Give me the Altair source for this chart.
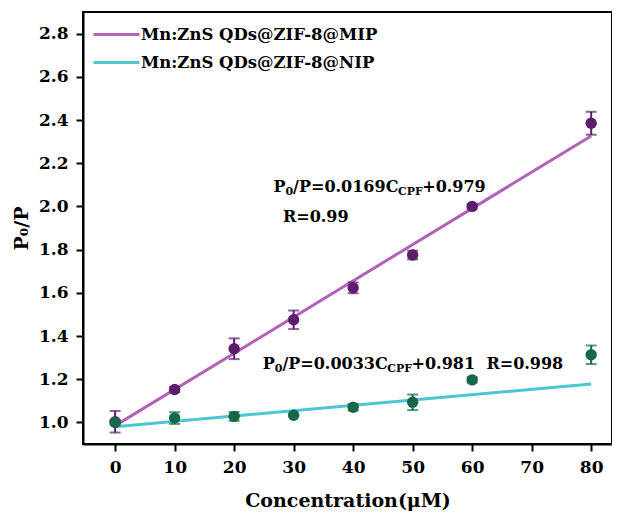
import altair as alt
import pandas as pd

# ---------------- data ----------------
conc = [0, 10, 20, 30, 40, 50, 60, 80]
mip_mean = [1.003, 1.152, 1.341, 1.475, 1.623, 1.775, 2.000, 2.385]
mip_err = [0.050, 0.012, 0.048, 0.043, 0.025, 0.020, 0.010, 0.053]
nip_mean = [1.000, 1.020, 1.028, 1.033, 1.070, 1.093, 1.197, 1.313]
nip_err = [0.010, 0.027, 0.020, 0.005, 0.015, 0.036, 0.012, 0.043]

series_names = ["Mn:ZnS QDs@ZIF-8@MIP", "Mn:ZnS QDs@ZIF-8@NIP"]
line_colors = ["#b462b9", "#4cc6d3"]
point_colors = ["#5c1d6d", "#16684a"]

fit_x = [0, 80]
mip_fit = [0.985, 2.326]
nip_fit = [0.980, 1.178]

x_ticks = [0, 10, 20, 30, 40, 50, 60, 70, 80]
y_ticks = [1.0, 1.2, 1.4, 1.6, 1.8, 2.0, 2.2, 2.4, 2.6, 2.8]

# equation annotations: (text, is_subscript)
eq1_parts = [("P", False), ("0", True), ("/P=0.0169C", False), ("CPF", True), ("+0.979", False)]
eq1_pos = (26.6, 2.088)
r1_text, r1_pos = "R=0.99", (28.2, 1.949)
eq2_parts = [("P", False), ("0", True), ("/P=0.0033C", False), ("CPF", True), ("+0.981", False)]
eq2_pos = (24.8, 1.270)
r2_text, r2_pos = "R=0.998", (62.4, 1.270)

# ---------------- styling ----------------
FONT = "DejaVu Serif"
MAIN_SIZE = 16
SUB_SIZE = 11

x_scale = alt.Scale(domain=[-5.4, 83.5], nice=False, zero=False)
y_scale = alt.Scale(domain=[0.9, 2.9], nice=False, zero=False)

x_axis = alt.Axis(values=x_ticks, title="Concentration(μM)", grid=False,
                  labelFont=FONT, labelFontSize=17, labelFontWeight="bold", labelColor="black",
                  titleFont=FONT, titleFontSize=19, titleFontWeight="bold", titleColor="black",
                  tickSize=7, tickWidth=2, tickColor="black", labelPadding=8, titlePadding=16,
                  domainColor="black", domainWidth=2, labelFlush=False)
y_axis = alt.Axis(values=y_ticks, format=".1f", title="P₀/P", grid=False,
                  labelFont=FONT, labelFontSize=17, labelFontWeight="bold", labelColor="black",
                  titleFont=FONT, titleFontSize=19, titleFontWeight="bold", titleColor="black",
                  tickSize=7, tickWidth=2, tickColor="black", labelPadding=8, titlePadding=7,
                  domainColor="black", domainWidth=2, labelFlush=False)

X = alt.X("x:Q", scale=x_scale, axis=x_axis)
Y = alt.Y("y:Q", scale=y_scale, axis=y_axis)

# ---------------- tables ----------------
fit_df = pd.DataFrame({
    "x": fit_x + fit_x,
    "y": mip_fit + nip_fit,
    "series": [series_names[0]] * 2 + [series_names[1]] * 2,
})

def pts_df(mean, err):
    return pd.DataFrame({
        "x": conc,
        "y": mean,
        "lo": [m - e for m, e in zip(mean, err)],
        "hi": [m + e for m, e in zip(mean, err)],
    })

mip_df = pts_df(mip_mean, mip_err)
nip_df = pts_df(nip_mean, nip_err)

lines = alt.Chart(fit_df).mark_line(strokeWidth=3).encode(
    x=X, y=Y,
    color=alt.Color("series:N",
                    scale=alt.Scale(domain=series_names, range=line_colors),
                    legend=alt.Legend(title=None, orient="none", legendX=22, legendY=11,
                                      symbolType="M-2.3,0H2.3", symbolSize=400,
                                      symbolStrokeWidth=3,
                                      labelFont=FONT, labelFontSize=16.5, labelFontWeight="bold",
                                      labelColor="black", labelOffset=13, padding=0, rowPadding=8,
                                      labelLimit=400)),
)

def series_layers(df, color):
    base = alt.Chart(df)
    bar = base.mark_rule(color=color, strokeWidth=2).encode(x=X, y=alt.Y("lo:Q", scale=y_scale), y2="hi:Q")
    cap_lo = base.mark_tick(color=color, orient="horizontal", size=11, thickness=2).encode(
        x=X, y=alt.Y("lo:Q", scale=y_scale))
    cap_hi = base.mark_tick(color=color, orient="horizontal", size=11, thickness=2).encode(
        x=X, y=alt.Y("hi:Q", scale=y_scale))
    pts = base.mark_point(filled=True, size=130, opacity=1, color=color).encode(x=X, y=Y)
    return [bar, cap_lo, cap_hi, pts]

# approximate DejaVu Serif Bold advance widths (em)
W = {"P": 0.753, "0": 0.696, "1": 0.696, "2": 0.696, "3": 0.696, "4": 0.696, "5": 0.696,
     "6": 0.696, "7": 0.696, "8": 0.696, "9": 0.696, "/": 0.365, "=": 0.838, ".": 0.380,
     "C": 0.734, "F": 0.724, "+": 0.838, "R": 0.811}

def text_w(s, size):
    return sum(W.get(c, 0.7) for c in s) * size

def text_layers(parts, pos):
    layers = []
    off = 0.0
    for txt, sub in parts:
        size = SUB_SIZE if sub else MAIN_SIZE
        df = pd.DataFrame({"x": [pos[0]], "y": [pos[1]], "t": [txt]})
        layers.append(alt.Chart(df).mark_text(
            align="left", baseline="middle", font=FONT, fontWeight="bold", fontSize=size,
            color="black", dx=off, dy=5 if sub else 0).encode(x=X, y=Y, text="t:N"))
        off += text_w(txt, size)
    return layers

annots = (text_layers(eq1_parts, eq1_pos) + text_layers([(r1_text, False)], r1_pos)
          + text_layers(eq2_parts, eq2_pos) + text_layers([(r2_text, False)], r2_pos))

chart = alt.layer(
    lines,
    *series_layers(mip_df, point_colors[0]),
    *series_layers(nip_df, point_colors[1]),
    *annots,
).properties(
    width=529, height=432,
    autosize=alt.AutoSizeParams(type="none"),
    padding={"left": 75, "top": 4, "right": 0, "bottom": 67},
).configure_view(stroke="black", strokeWidth=2)

chart.save("out.html", embed_options={"renderer": "svg", "actions": False})
